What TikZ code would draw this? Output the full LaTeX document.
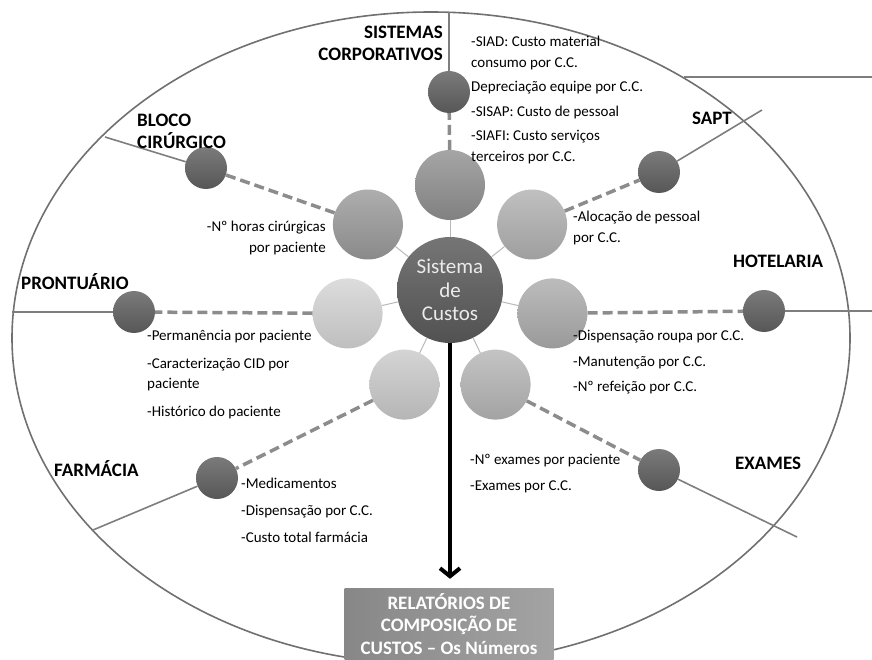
\documentclass[tikz,border=0pt]{standalone}
\usepackage{fontspec}
\setmainfont{Carlito}
\usepackage{tikz}
\usetikzlibrary{arrows.meta}

\definecolor{rimgray}{HTML}{707070}
\definecolor{spokegray}{HTML}{7E7E7E}
\definecolor{dashgray}{HTML}{8C8C8C}

\begin{document}
\begin{tikzpicture}[x=1pt,y=-1pt,
  hub/.style={circle,minimum size=106pt,inner sep=0pt,top color=black!54,bottom color=black!68,
    text=black!8,align=center,font=\fontsize{21}{23.3}\selectfont},
  sat/.style={circle,minimum size=70pt,inner sep=0pt,top color=black!#1!white!80,bottom color=black!#1!white!90!black},
  src/.style={circle,minimum size=42pt,inner sep=0pt,top color=black!52,bottom color=black!66},
  lbl/.style={inner sep=0pt,font=\fontsize{19}{22}\selectfont\bfseries},
  note/.style={inner sep=0pt,align=left,font=\fontsize{15}{20.5}\selectfont},
  thin/.style={black!28,line width=1pt},
  feed/.style={dashgray,line width=3.5pt,dash pattern=on 10pt off 5pt},
  spoke/.style={spokegray,line width=1.6pt}]
\useasboundingbox (0,0) rectangle (872,660);

\draw[rimgray,line width=1.6pt] (431,338) ellipse [x radius=419, y radius=326];
\draw[spokegray,line width=2.5pt] (684,77) -- (872,77);

\node[hub] (sc) at (450,290) {Sistema\\de\\Custos};

\node[sat=44] (s1) at (450,185) {};
\node[sat=31] (s2) at (532.1,224.5) {};
\node[sat=33] (s3) at (552.4,313.4) {};
\node[sat=29] (s4) at (495.6,384.6) {};
\node[sat=21] (s5) at (404.4,384.6) {};
\node[sat=17] (s6) at (347.6,313.4) {};
\node[sat=40] (s7) at (367.9,224.5) {};

\node[src] (c1) at (449,92) {};
\node[src] (c2) at (659,172) {};
\node[src] (c3) at (764,311) {};
\node[src] (c4) at (659,470) {};
\node[src] (c5) at (217,478) {};
\node[src] (c6) at (134,312) {};
\node[src] (c7) at (206,168) {};

\coordinate (e1) at (449,12);
\coordinate (e2) at (762,110);
\coordinate (e3) at (872,311);
\coordinate (e4) at (797,537);
\coordinate (e5) at (93,530);
\coordinate (e6) at (12,312);
\coordinate (e7) at (105,137);

\foreach \i in {1,...,7} {
  \draw[thin] (sc) -- (s\i);
  \draw[feed] (s\i) -- (c\i);
  \draw[spoke] (c\i) -- (e\i);
}

\node[minimum width=209pt,minimum height=72pt,inner sep=0pt,left color=black!47,right color=black!36,
  text=white,align=center,font=\fontsize{19}{22.5}\selectfont\bfseries] (rep) at (449,624)
  {RELATÓRIOS DE\\COMPOSIÇÃO DE\\CUSTOS – Os Números};
\draw[black,line width=4pt,-{Straight Barb[length=8pt,width=20pt]},shorten >=9pt] (sc) -- (sc |- rep.north);

\node[lbl,align=right,anchor=north east] (corp) at (443,26) {SISTEMAS\\CORPORATIVOS};
\node[lbl] (sapt) at (712,118) {SAPT};
\node[lbl,align=left,anchor=north west] (bloco) at (137,114) {BLOCO\\CIRÚRGICO};
\node[lbl,anchor=base west] (pront) at (21,289) {PRONTUÁRIO};
\node[lbl,anchor=base west] (hotel) at (733,268) {HOTELARIA};
\node[lbl,anchor=base west] (farm) at (54,476) {FARMÁCIA};
\node[lbl,anchor=base west] (exam) at (735,469) {EXAMES};

\node[note,anchor=north west] (tcorp) at (471,36)
  {-SIAD: Custo material\\consumo por C.C.\\[4pt]Depreciação equipe por C.C.\\[4pt]-SISAP: Custo de pessoal\\[4pt]-SIAFI: Custo serviços\\terceiros por C.C.};
\node[note,align=right,anchor=north east] (tbloco) at (326,221) {-Nº horas cirúrgicas\\por paciente};
\node[note,anchor=north west] (tsapt) at (573,211) {-Alocação de pessoal\\por C.C.};
\node[note,anchor=north west] (tpront) at (147,330)
  {-Permanência por paciente\\[7pt]-Caracterização CID por\\paciente\\[7pt]-Histórico do paciente};
\node[note,anchor=north west] (thotel) at (573,330)
  {-Dispensação roupa por C.C.\\[5pt]-Manutenção por C.C.\\[5pt]-Nº refeição por C.C.};
\node[note,anchor=north west] (tfarm) at (241,478)
  {-Medicamentos\\[6.5pt]-Dispensação por C.C.\\[6.5pt]-Custo total farmácia};
\node[note,anchor=north west] (texam) at (470,454) {-Nº exames por paciente\\[5pt]-Exames por C.C.};
\end{tikzpicture}
\end{document}
